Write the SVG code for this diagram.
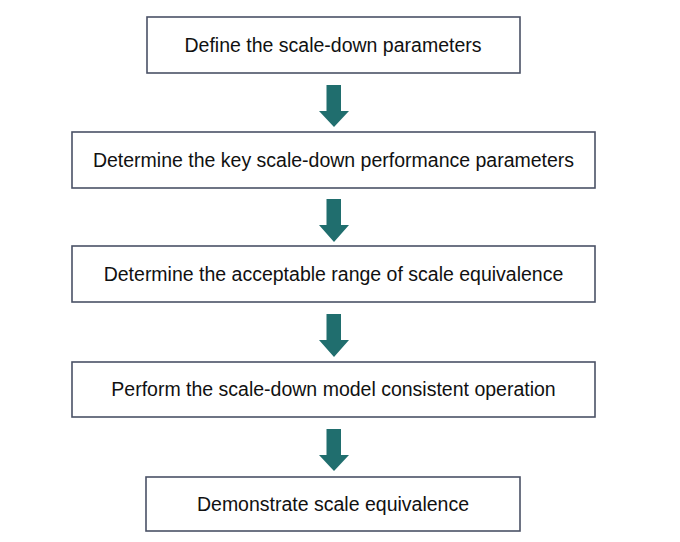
<svg xmlns="http://www.w3.org/2000/svg" width="680" height="542" viewBox="0 0 680 542">
<style>
.box{fill:#ffffff;stroke:#4a5266;stroke-width:1.6}
.lbl{font-family:"Liberation Sans",Arial,sans-serif;font-size:19.5px;fill:#111111;text-anchor:middle}
.arr{fill:#206e6e}
</style>
<rect width="680" height="542" fill="#ffffff"/>
<g id="connectors">
<path class="arr" d="M326.5,85 H341 V111 H349 L334,127 L319,111 H326.5 Z"/>
<path class="arr" d="M326.5,199 H341 V225 H349 L334,242 L319,225 H326.5 Z"/>
<path class="arr" d="M326.5,314 H341 V340 H349 L334,357 L319,340 H326.5 Z"/>
<path class="arr" d="M326.5,429 H341 V455 H349 L334,471 L319,455 H326.5 Z"/>
</g>
<g id="n1">
<rect class="box" x="147" y="17" width="373" height="56"/>
<text class="lbl" x="333" y="52">Define the scale-down parameters</text>
</g>
<g id="n2">
<rect class="box" x="72" y="132" width="523" height="56"/>
<text class="lbl" x="333.5" y="167">Determine the key scale-down performance parameters</text>
</g>
<g id="n3">
<rect class="box" x="72" y="246" width="523" height="56"/>
<text class="lbl" x="333.5" y="281">Determine the acceptable range of scale equivalence</text>
</g>
<g id="n4">
<rect class="box" x="72" y="362" width="523" height="55"/>
<text class="lbl" x="333.5" y="396">Perform the scale-down model consistent operation</text>
</g>
<g id="n5">
<rect class="box" x="146" y="477" width="374" height="54"/>
<text class="lbl" x="333" y="511">Demonstrate scale equivalence</text>
</g>
</svg>
